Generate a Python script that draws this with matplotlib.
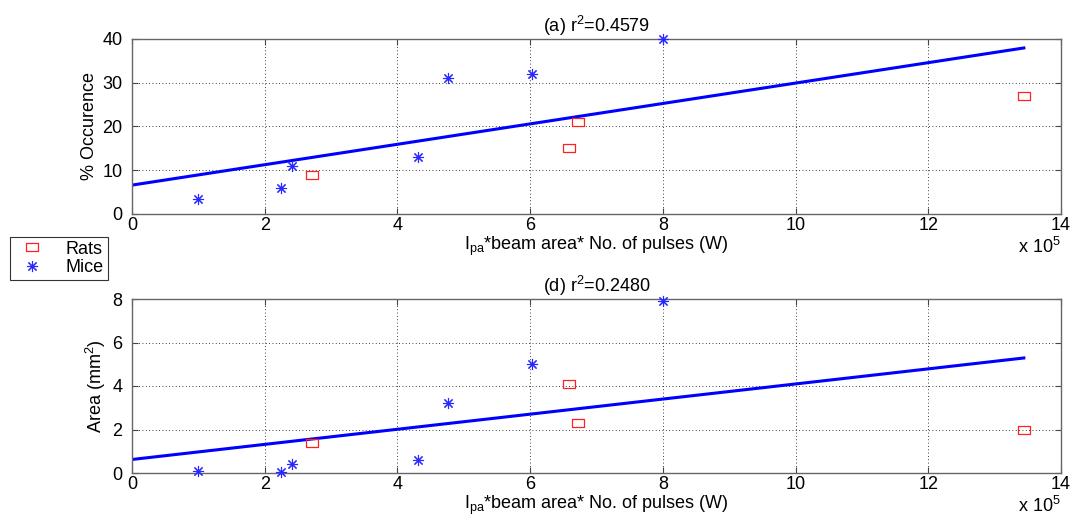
import numpy as np
import matplotlib
matplotlib.use('Agg')
from matplotlib import pyplot as plt

plt.rcParams['font.family'] = ['Liberation Sans', 'DejaVu Sans']
plt.rcParams['mathtext.fontset'] = 'custom'
plt.rcParams['mathtext.rm'] = 'Liberation Sans'
plt.rcParams['mathtext.it'] = 'Liberation Sans:italic'

# x values in units of 1e5 W
mice_x = [1.0, 2.25, 2.41, 4.31, 4.76, 6.03, 8.0]
rats_x = [2.71, 6.58, 6.72, 13.44]

mice_occ = [3.4, 6, 11, 13, 31, 32, 40]
rats_occ = [9, 15, 21, 27]

mice_area = [0.1, 0.05, 0.4, 0.6, 3.2, 5.0, 7.9]
rats_area = [1.4, 4.1, 2.3, 2.0]

titles = [r'(a) r$^2$=0.4579', r'(d) r$^2$=0.2480']
ylabels = ['% Occurence', r'Area (mm$^2$)']
ylims = [(0, 40), (0, 8)]
yticks = [[0, 10, 20, 30, 40], [0, 2, 4, 6, 8]]
xlabel = r'I$_{\rm pa}$*beam area* No. of pulses (W)'

rect = [(-1.4, -1), (1.4, -1), (1.4, 1), (-1.4, 1), (-1.4, -1)]
star = (8, 2, 0)
FS = 13

fig = plt.figure(figsize=(10.77, 5.23), dpi=100)
ax1 = fig.add_axes([132 / 1077, 1 - 214 / 523, 929 / 1077, 175 / 523])
ax2 = fig.add_axes([132 / 1077, 1 - 473 / 523, 929 / 1077, 174 / 523])

handles = None
for ax, ry, my, title, ylab, ylim, yt in zip([ax1, ax2], [rats_occ, rats_area],
                                             [mice_occ, mice_area], titles, ylabels,
                                             ylims, yticks):
    allx = np.array(rats_x + mice_x)
    ally = np.array(ry + my)
    p = np.polyfit(allx, ally, 1)
    xf = np.array([0, allx.max()])
    ax.plot(xf, np.polyval(p, xf), '-', color='#0000ff', lw=2.2, zorder=2)
    h1, = ax.plot(rats_x, ry, linestyle='none', marker=rect, ms=8, mfc='none',
                  mec='#ff2020', mew=0.9, label='Rats', zorder=3, clip_on=False)
    h2, = ax.plot(mice_x, my, linestyle='none', marker=star, ms=8,
                  mec='#2828ff', mew=0.8, label='Mice', zorder=3, clip_on=False)
    if handles is None:
        handles = [h1, h2]

    ax.set_xlim(0, 14)
    ax.set_ylim(*ylim)
    ax.set_xticks(range(0, 15, 2))
    ax.set_yticks(yt)
    ax.grid(True, linestyle=(0, (1, 3)), color='black', lw=0.6)
    ax.tick_params(direction='in', top=True, right=True, length=4,
                   labelsize=FS, color='#444444', pad=2)
    ax.tick_params(axis='y', pad=7)
    for s in ax.spines.values():
        s.set_color('#666666')
        s.set_linewidth(1.0)
    ax.set_title(title, fontsize=FS, pad=5)
    ax.set_ylabel(ylab, fontsize=FS, labelpad=3)
    ax.set_xlabel(xlabel, fontsize=FS, labelpad=1)
    ax.text(1.0, -0.13, r'x 10$^5$', transform=ax.transAxes, ha='right',
            va='top', fontsize=FS)

fig.legend(handles=handles, loc='upper left', bbox_to_anchor=(10 / 1077, 1 - 237 / 523),
           fontsize=FS, frameon=True, fancybox=False, edgecolor='black',
           borderpad=0.2, handletextpad=0.9, handlelength=2.0, labelspacing=0.1,
           borderaxespad=0)
fig.legends[0].get_frame().set_linewidth(0.8)

fig.savefig('out.png', dpi=100)
